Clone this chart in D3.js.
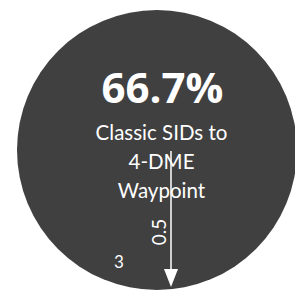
<!DOCTYPE html>
<html>
<head>
<meta charset="utf-8">
<script src="https://cdn.jsdelivr.net/npm/d3@7"></script>
<style>
  body { margin: 0; background: #fff; }
  svg { display: block; }
</style>
</head>
<body>
<div id="chart"></div>
<script>
// values
const shares = [0.667];
const titleLines = ["Classic SIDs to", "4-DME", "Waypoint"];
const axisTicks = [0.5, 3];

const width = 295;
const height = 299;
const cx = 157;
const cy = 150;
const radius = 140;

const svg = d3.select("#chart")
    .append("svg")
    .attr("width", width)
    .attr("height", height)
    .attr("viewBox", [0, 0, width, height]);

// full disc (one slice that fills the circle)
const pie = d3.pie().sort(null).value(d => 1);
const arc = d3.arc().innerRadius(0).outerRadius(radius);

svg.append("g")
    .attr("transform", `translate(${cx},${cy})`)
    .selectAll("path")
    .data(pie(shares))
    .join("path")
    .attr("d", arc)
    .attr("fill", "#404040");

const font = "Lato, 'Open Sans', sans-serif";

svg.append("text")
    .attr("x", 162.5)
    .attr("y", 103)
    .attr("text-anchor", "middle")
    .attr("fill", "#fff")
    .attr("font-family", "'Open Sans', sans-serif")
    .attr("font-weight", "bold")
    .attr("font-size", 42)
    .text(d3.format(".1%")(shares[0]));

svg.append("g")
    .selectAll("text")
    .data(titleLines)
    .join("text")
    .attr("x", 161.5)
    .attr("y", (d, i) => 140 + i * 29)
    .attr("text-anchor", "middle")
    .attr("fill", "#fff")
    .attr("font-family", font)
    .attr("font-size", 20.5)
    .text(d => d);

// arrow axis
const y = d3.scaleLinear([0, 3], [151, 287]);
const ax = 171;

svg.append("line")
    .attr("x1", ax).attr("x2", ax)
    .attr("y1", y(0)).attr("y2", y(3) - 16)
    .attr("stroke", "#fff")
    .attr("stroke-width", 1.5);

svg.append("path")
    .attr("d", `M${ax - 7},${y(3) - 18}L${ax + 7},${y(3) - 18}L${ax},${y(3)}Z`)
    .attr("fill", "#fff");

svg.append("text")
    .attr("transform", `translate(166,232) rotate(-90)`)
    .attr("text-anchor", "middle")
    .attr("fill", "#fff")
    .attr("font-family", font)
    .attr("font-size", 19)
    .text(axisTicks[0]);

svg.append("text")
    .attr("x", 119)
    .attr("y", 268)
    .attr("text-anchor", "middle")
    .attr("fill", "#fff")
    .attr("font-family", font)
    .attr("font-size", 17)
    .text(axisTicks[1]);
</script>
</body>
</html>
